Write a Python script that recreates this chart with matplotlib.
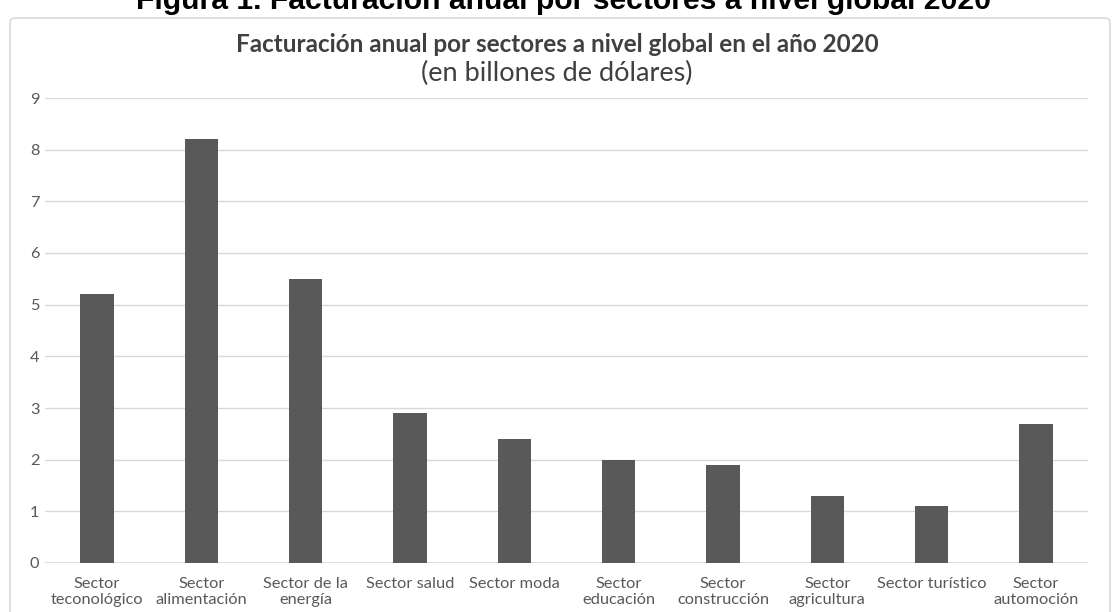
import matplotlib.pyplot as plt
import numpy as np
from matplotlib.patches import FancyBboxPatch

sectores = ['Sector\nteconológico', 'Sector\nalimentación', 'Sector de la\nenergía', 'Sector salud',
            'Sector moda', 'Sector\neducación', 'Sector\nconstrucción', 'Sector\nagricultura',
            'Sector turístico', 'Sector\nautomoción']
facturacion = [5.2, 8.2, 5.5, 2.9, 2.4, 2.0, 1.9, 1.3, 1.1, 2.7]
yticks = list(range(0, 10))

plt.rcParams['font.family'] = ['Lato', 'DejaVu Sans']
gris = '#595959'

fig = plt.figure(figsize=(11.14, 6.12), dpi=100)
fig.patch.set_facecolor('white')

# marco del gráfico
marco = FancyBboxPatch((10 / 1114, -0.05), 1100 / 1114, 1 - 18 / 612 + 0.05,
                       boxstyle='round,pad=0,rounding_size=0.006', transform=fig.transFigure,
                       facecolor='white', edgecolor='#d9d9d9', linewidth=1.2, zorder=-10)
fig.patches.append(marco)

# pie de figura cortado arriba
fig.text(563 / 1114, 1 - 9 / 612, 'Figura 1. Facturación anual por sectores a nivel global 2020',
         ha='center', va='baseline', fontsize=21.7, fontweight='bold', family='Liberation Sans',
         color='black')

ax = fig.add_axes([45 / 1114, 1 - 563 / 612, (1088 - 45) / 1114, (563 - 98) / 612])
x = np.arange(len(sectores))
ax.bar(x, facturacion, width=0.32, color=gris, zorder=3)
ax.set_xlim(-0.5, len(sectores) - 0.5)
ax.set_ylim(0, 9)
ax.set_yticks(yticks)
ax.set_xticks(x)
ax.set_xticklabels(sectores, fontsize=11.8, color=gris, linespacing=1.2)
ax.tick_params(axis='y', labelsize=11.8, labelcolor=gris, length=0, pad=4)
ax.tick_params(axis='x', length=0, pad=10)
ax.grid(axis='y', color='#d9d9d9', linewidth=1, zorder=0)
for s in ax.spines.values():
    s.set_visible(False)
ax.axhline(0, color='#d9d9d9', linewidth=1.2, zorder=2)
ax.set_facecolor('none')

fig.text(0.5, 1 - 45 / 612, 'Facturación anual por sectores a nivel global en el año 2020',
         ha='center', va='center', fontsize=17.5, fontweight='bold', color='#404040')
fig.text(0.5, 1 - 73 / 612, '(en billones de dólares)', ha='center', va='center',
         fontsize=19.5, color='#404040')

fig.savefig('out.png', dpi=100)
